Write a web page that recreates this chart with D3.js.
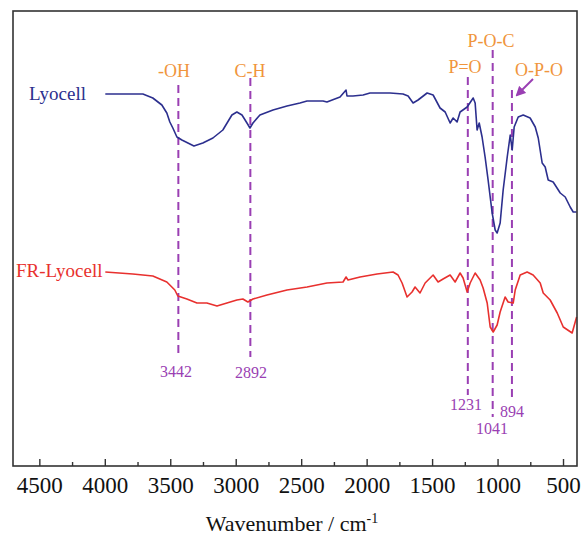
<!DOCTYPE html>
<html>
<head>
<meta charset="utf-8">
<script src="https://cdn.jsdelivr.net/npm/d3@7"></script>
<style>
  html, body { margin: 0; padding: 0; background: #fff; }
  svg { display: block; }
  svg text { font-family: "Liberation Serif", "Times New Roman", serif; }
</style>
</head>
<body>
<svg id="chart" width="585" height="542"></svg>
<script>
// ---- data (wavenumber cm^-1, transmittance in arbitrary units) ----
const lyocellWave = [4000,3713,3637,3568,3530,3507,3484,3453,3415,3369,3323,3255,3178,3102,3033,2995,2956,2918,2895,2872,2819,2719,2612,2513,2459,2337,2307,2207,2161,2154,2108,2031,1978,1825,1726,1687,1649,1611,1542,1496,1443,1404,1366,1343,1313,1290,1236,1190,1175,1160,1144,1122,1099,1076,1045,1022,1007,984,961,930,907,892,877,846,808,755,716,693,663,640,617,579,525,487,449,426,400];
const lyocellT    = [372,372,368,361,353,344,338,329,326,323,320,323,328,336,351,354,351,343,338,343,351,356,360,363,365,365,364,369,376,370,370,371,373,373,372,370,363,366,373,371,358,354,343,348,344,354,359,368,363,336,343,329,309,286,253,236,233,243,276,309,331,316,339,349,351,348,339,328,303,299,286,284,273,269,259,254,254];

const frWave = [4000,3790,3637,3530,3469,3446,3377,3300,3224,3147,3071,2995,2949,2911,2872,2765,2612,2459,2307,2184,2161,2146,2054,1924,1802,1764,1733,1695,1657,1634,1596,1557,1496,1458,1420,1366,1328,1290,1267,1236,1213,1175,1137,1114,1083,1060,1037,1007,984,946,923,884,869,831,778,732,678,655,602,548,502,434,400];
const frT    = [194,192,190,184,176,170,167,163,163,160,163,166,167,164,167,171,176,179,183,184,189,186,189,192,194,191,183,169,174,179,173,183,191,184,187,191,184,193,188,174,183,193,186,178,163,139,134,141,154,169,164,163,176,191,194,191,183,173,166,153,139,133,149];

const seriesNames = ["Lyocell", "FR-Lyocell"];
const xTickValues = [4500,4000,3500,3000,2500,2000,1500,1000,500];
const xMinorValues = [4250,3750,3250,2750,2250,1750,1250,750];

const peakWave   = [3442, 2892, 1231, 1041, 894];
const peakGroups = ["-OH", "C-H", "P=O", "P-O-C", "O-P-O"];

// ---- layout ----
const FONT = "Liberation Serif, Times New Roman, serif";
const svg = d3.select("#chart");
const L = 13, R = 577, T = 11, B = 466;

const x = d3.scaleLinear().domain([4705, 397]).range([L, R]);
const y = d3.scaleLinear().domain([0, 455]).range([B, T]);

const purple = "#9a3fb3";
const orange = "#f0953c";
const blue = "#2c2f8e";
const red = "#e8302e";

// dashed marker lines
const dashTop = [85, 78, 77, 50, 90];
const dashBot = [357, 357, 395, 417, 402];
peakWave.forEach((w, i) => {
  svg.append("line")
    .attr("x1", x(w)).attr("x2", x(w))
    .attr("y1", dashTop[i]).attr("y2", dashBot[i])
    .attr("stroke", purple).attr("stroke-width", 2)
    .attr("stroke-dasharray", "8,5");
});

// curves
const line = d3.line().x(d => x(d[0])).y(d => y(d[1]));
svg.append("path")
  .datum(lyocellWave.map((w, i) => [w, lyocellT[i]]))
  .attr("d", line).attr("fill", "none")
  .attr("stroke", blue).attr("stroke-width", 1.6).attr("stroke-linejoin", "round");
svg.append("path")
  .datum(frWave.map((w, i) => [w, frT[i]]))
  .attr("d", line).attr("fill", "none")
  .attr("stroke", red).attr("stroke-width", 1.6).attr("stroke-linejoin", "round");

// frame
svg.append("rect")
  .attr("x", L).attr("y", T).attr("width", R - L).attr("height", B - T)
  .attr("fill", "none").attr("stroke", "#333").attr("stroke-width", 1.6);

// x axis ticks (inward)
const g = svg.append("g");
g.selectAll("line.major").data(xTickValues).enter().append("line")
  .attr("x1", d => x(d)).attr("x2", d => x(d))
  .attr("y1", B).attr("y2", B - 7)
  .attr("stroke", "#333").attr("stroke-width", 1.4);
g.selectAll("line.minor").data(xMinorValues).enter().append("line")
  .attr("x1", d => x(d)).attr("x2", d => x(d))
  .attr("y1", B).attr("y2", B - 4)
  .attr("stroke", "#333").attr("stroke-width", 1.4);
g.selectAll("text.tick").data(xTickValues).enter().append("text")
  .attr("x", d => x(d)).attr("y", 493)
  .attr("text-anchor", "middle")
  .attr("font-family", FONT)
  .attr("font-size", 23).attr("fill", "#111")
  .text(d => d);

// axis title
const title = svg.append("text")
  .attr("x", 292).attr("y", 531)
  .attr("text-anchor", "middle")
  .attr("font-family", FONT)
  .attr("font-size", 22).attr("fill", "#111");
title.append("tspan").text("Wavenumber / cm");
title.append("tspan").attr("dy", -8).attr("font-size", 14).text("-1");

// series labels
svg.append("text").attr("x", 29).attr("y", 100).attr("font-family", FONT)
  .attr("font-size", 19).attr("fill", blue).text(seriesNames[0]);
svg.append("text").attr("x", 16).attr("y", 277).attr("font-family", FONT)
  .attr("font-size", 19).attr("fill", red).text(seriesNames[1]);

// group labels (orange)
const groupPos = [[174, 77], [250, 77], [465, 73], [491, 47], [539, 76]];
peakGroups.forEach((t, i) => {
  svg.append("text")
    .attr("x", groupPos[i][0]).attr("y", groupPos[i][1])
    .attr("text-anchor", "middle")
    .attr("font-family", FONT)
    .attr("font-size", 18).attr("fill", orange)
    .text(t);
});

// wavenumber labels (purple)
const numPos = [[176, 377], [251, 378], [466, 410], [492, 434], [512, 417]];
peakWave.forEach((w, i) => {
  svg.append("text")
    .attr("x", numPos[i][0]).attr("y", numPos[i][1])
    .attr("text-anchor", "middle")
    .attr("font-family", FONT)
    .attr("font-size", 16).attr("fill", purple)
    .text(w);
});

// arrow to O-P-O band
svg.append("defs").append("marker")
  .attr("id", "arr").attr("viewBox", "0 0 10 10")
  .attr("refX", 8).attr("refY", 5)
  .attr("markerWidth", 5).attr("markerHeight", 5)
  .attr("orient", "auto")
  .append("path").attr("d", "M0,0 L10,5 L0,10 z").attr("fill", purple);
svg.append("line")
  .attr("x1", 533).attr("y1", 79).attr("x2", 517).attr("y2", 95)
  .attr("stroke", purple).attr("stroke-width", 2)
  .attr("marker-end", "url(#arr)");
</script>
</body>
</html>
